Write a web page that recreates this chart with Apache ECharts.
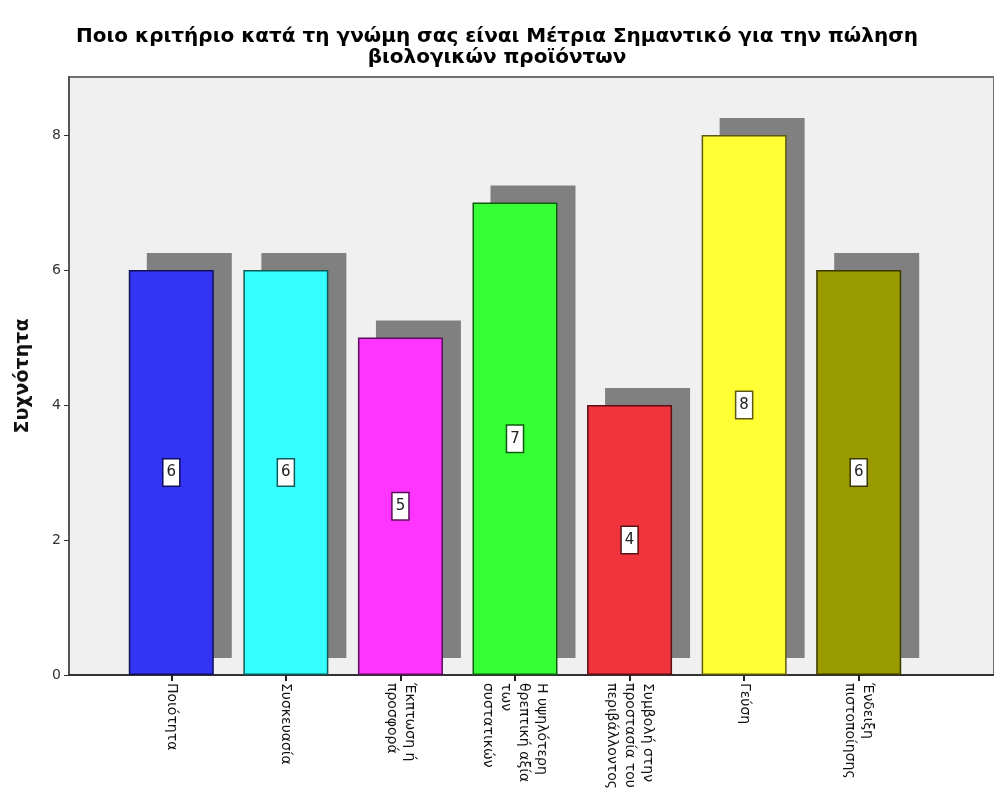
<!DOCTYPE html>
<html>
<head>
    <meta charset="utf-8">
    <title>Κριτήρια πώλησης βιολογικών προϊόντων</title>
    <script src="https://cdn.jsdelivr.net/npm/echarts@6/dist/echarts.min.js"></script>
    <style>
        html, body { margin: 0; padding: 0; background: #ffffff; }
        #main { width: 994px; height: 805px; }
    </style>
</head>
<body>
<div id="main"></div>
<script>
    // δεδομένα
    var categories = [
        'Ποιότητα',
        'Συσκευασία',
        'Έκπτωση ή\nπροσφορά',
        'Η υψηλότερη\nθρεπτική αξία\nτων\nσυστατικών',
        'Συμβολή στην\nπροστασία του\nπεριβάλλοντος',
        'Γεύση',
        'Ένδειξη\nπιστοποίησης'
    ];
    var counts = [6, 6, 5, 7, 4, 8, 6];
    var barColors = ['#3434f4', '#35ffff', '#ff35ff', '#36ff36', '#f0343c', '#ffff33', '#999900'];
    var barBorders = ['#10105a', '#0e5a5a', '#5a105a', '#105a10', '#5a1014', '#5a5a10', '#3a3a00'];
    var yTicks = [0, 2, 4, 6, 8];
    var yMax = 8.86;

    var FONT = 'DejaVu Sans';
    var chart = echarts.init(document.getElementById('main'));

    var barData = counts.map(function (v, i) {
        return {
            value: v,
            itemStyle: {color: barColors[i], borderColor: barBorders[i]},
            label: {borderColor: barBorders[i]}
        };
    });

    var option = {
        animation: false,
        backgroundColor: '#ffffff',
        title: {
            text: 'Ποιο κριτήριο κατά τη γνώμη σας είναι Μέτρια Σημαντικό για την πώληση\nβιολογικών προϊόντων',
            left: 'center',
            top: 21,
            textStyle: {
                fontFamily: FONT,
                fontSize: 20,
                fontWeight: 'bold',
                color: '#000',
                lineHeight: 21
            }
        },
        grid: [
            {   // πλαίσιο με γκρι φόντο
                left: 69, top: 77, right: -10, bottom: 130,
                show: true, backgroundColor: '#f0f0f0',
                borderColor: '#707070', borderWidth: 2
            },
            {   // οι μπάρες
                left: 114, top: 77, right: 78, bottom: 130
            },
            {   // η σκιά, μετατοπισμένη δεξιά και πάνω
                left: 132, top: 60, right: 60, bottom: 147
            }
        ],
        xAxis: [
            {
                gridIndex: 0, type: 'value', min: 0, max: 1,
                axisLine: {show: true, onZero: false, lineStyle: {color: '#333', width: 2}},
                axisTick: {show: false}, axisLabel: {show: false}, splitLine: {show: false}
            },
            {
                gridIndex: 1, type: 'category', data: categories,
                axisLine: {show: false},
                axisTick: {show: true, alignWithLabel: true, length: 6, lineStyle: {color: '#222', width: 2}},
                axisLabel: {
                    rotate: -90, interval: 0, margin: 8,
                    fontFamily: FONT, fontSize: 14, color: '#111', lineHeight: 18
                },
                splitLine: {show: false}
            },
            {
                gridIndex: 2, type: 'category', data: categories, show: false
            }
        ],
        yAxis: [
            {
                gridIndex: 0, type: 'value', min: 0, max: yMax,
                name: 'Συχνότητα', nameLocation: 'middle', nameGap: 36,
                nameTextStyle: {fontFamily: FONT, fontSize: 19, fontWeight: 'bold', color: '#111'},
                axisLine: {show: true, lineStyle: {color: '#555', width: 2}},
                axisTick: {show: true, length: 5, customValues: yTicks, lineStyle: {color: '#333'}},
                axisLabel: {
                    fontFamily: FONT, fontSize: 14, color: '#333', margin: 8,
                    customValues: yTicks
                },
                splitLine: {show: false}
            },
            {gridIndex: 1, type: 'value', min: 0, max: yMax, show: false},
            {gridIndex: 2, type: 'value', min: 0, max: yMax, show: false}
        ],
        series: [
            {
                name: 'σκιά',
                type: 'bar',
                xAxisIndex: 2,
                yAxisIndex: 2,
                z: 1,
                data: counts,
                barWidth: 85,
                silent: true,
                itemStyle: {color: '#808080'}
            },
            {
                name: 'Συχνότητα',
                type: 'bar',
                xAxisIndex: 1,
                yAxisIndex: 1,
                z: 3,
                data: barData,
                barWidth: 85,
                itemStyle: {borderWidth: 1.5},
                label: {
                    show: true,
                    position: 'inside',
                    fontFamily: FONT,
                    fontSize: 15,
                    color: '#222',
                    backgroundColor: '#ffffff',
                    borderWidth: 1.5,
                    padding: [6, 3, 5, 3]
                }
            }
        ]
    };
    chart.setOption(option);

    window.onresize = function () {
        chart.resize();
    };
</script>
</body>
</html>
